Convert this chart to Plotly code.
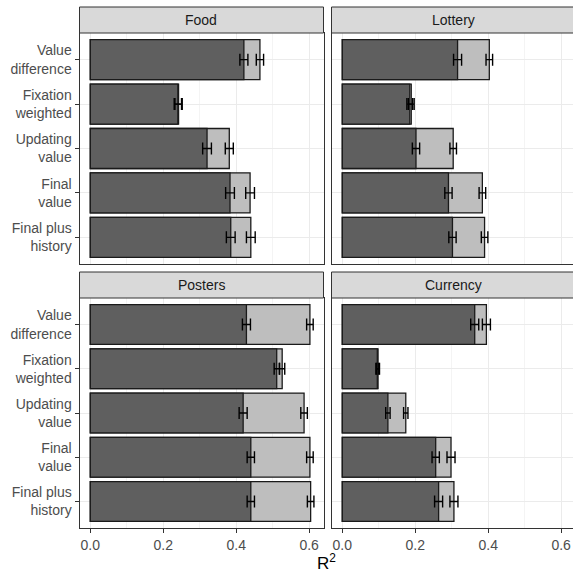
import plotly.graph_objects as go

categories = ["Value difference", "Fixation weighted", "Updating value", "Final value", "Final plus history"]
tick_labels = ["Value<br>difference", "Fixation<br>weighted", "Updating<br>value", "Final<br>value", "Final plus<br>history"]
panels = ["Food", "Lottery", "Posters", "Currency"]

food_full = [0.465, 0.242, 0.381, 0.438, 0.440]
food_base = [0.421, 0.240, 0.320, 0.383, 0.385]
lottery_full = [0.403, 0.189, 0.304, 0.384, 0.390]
lottery_base = [0.316, 0.185, 0.202, 0.291, 0.302]
posters_full = [0.602, 0.526, 0.586, 0.602, 0.604]
posters_base = [0.428, 0.511, 0.419, 0.440, 0.440]
currency_full = [0.395, 0.098, 0.174, 0.298, 0.306]
currency_base = [0.363, 0.096, 0.125, 0.256, 0.264]

food_full_err = [0.010, 0.010, 0.011, 0.012, 0.012]
food_base_err = [0.011, 0.010, 0.012, 0.012, 0.012]
lottery_full_err = [0.009, 0.008, 0.009, 0.009, 0.009]
lottery_base_err = [0.011, 0.008, 0.010, 0.010, 0.010]
posters_full_err = [0.009, 0.007, 0.009, 0.009, 0.009]
posters_base_err = [0.011, 0.007, 0.011, 0.010, 0.010]
currency_full_err = [0.011, 0.004, 0.006, 0.011, 0.011]
currency_base_err = [0.011, 0.004, 0.006, 0.010, 0.011]

x_ticks = [0.0, 0.2, 0.4, 0.6]
x_tick_labels = ["0.0", "0.2", "0.4", "0.6"]

data = {
    "Food": (food_full, food_base, food_full_err, food_base_err),
    "Lottery": (lottery_full, lottery_base, lottery_full_err, lottery_base_err),
    "Posters": (posters_full, posters_base, posters_full_err, posters_base_err),
    "Currency": (currency_full, currency_base, currency_full_err, currency_base_err),
}

W = H = 573
FONT = "Liberation Sans, Arial, sans-serif"
DARK = "#5f5f5f"
LIGHT = "#bebebe"
EDGE = "#1a1a1a"

# panel pixel geometry
px_per_unit = 364.8
left_x = (79.5, 323.5)
right_x = (331.5, 573.0)
top_y = (33.0, 264.0)
bot_y = (298.0, 528.0)
strip_h = 26.0

geom = {
    "Food": (left_x, top_y, 1),
    "Lottery": (right_x, top_y, 2),
    "Posters": (left_x, bot_y, 3),
    "Currency": (right_x, bot_y, 4),
}

fig = go.Figure()
err_traces = []
for name in panels:
    full, base, ferr, berr = data[name]
    (x0, x1), (y0, y1), idx = geom[name]
    xa = "x" if idx == 1 else f"x{idx}"
    ya = "y" if idx == 1 else f"y{idx}"
    for vals, col in ((full, LIGHT), (base, DARK)):
        fig.add_trace(go.Bar(
            x=vals, y=categories, orientation="h", width=0.9,
            marker=dict(color=col, line=dict(color=EDGE, width=1.3)),
            xaxis=xa, yaxis=ya, showlegend=False, hoverinfo="skip"))
    for vals, errs in ((base, berr), (full, ferr)):
        err_traces.append(go.Scatter(
            x=vals, y=categories, mode="markers",
            marker=dict(size=1, opacity=0),
            error_x=dict(type="data", array=errs, visible=True, color="black",
                         thickness=1.4, width=6),
            xaxis=xa, yaxis=ya, showlegend=False, hoverinfo="skip"))
for t in err_traces:
    fig.add_trace(t)

layout = {}
shapes = []
annotations = []
for name in panels:
    (x0, x1), (y0, y1), idx = geom[name]
    sfx = "" if idx == 1 else str(idx)
    origin = 90.3 if x0 < 100 else 342.3
    lo = -(origin - x0) / px_per_unit
    hi = lo + (x1 - x0) / px_per_unit
    show_x = idx in (3, 4)
    show_y = idx in (1, 3)
    layout["xaxis" + sfx] = dict(
        domain=[x0 / W, x1 / W], range=[lo, hi], anchor="y" + sfx,
        automargin=False,
        tickvals=x_ticks, ticktext=x_tick_labels, showticklabels=show_x,
        ticks="outside" if show_x else "", ticklen=4, tickcolor="#333333",
        showgrid=True, gridcolor="#ebebeb", gridwidth=1,
        minor=dict(dtick=0.1, tick0=0, showgrid=True, gridcolor="#f4f4f4", gridwidth=0.6),
        showline=True, mirror=True, linecolor="#333333", linewidth=1,
        zeroline=False, tickfont=dict(family=FONT, size=14, color="#4d4d4d"))
    layout["yaxis" + sfx] = dict(
        domain=[1 - y1 / H, 1 - y0 / H], anchor="x" + sfx,
        automargin=False,
        type="category", categoryorder="array", categoryarray=categories,
        range=[4.6, -0.6],
        tickvals=categories, ticktext=tick_labels, showticklabels=show_y,
        ticks="outside" if show_y else "", ticklen=4, tickcolor="#333333",
        showgrid=True, gridcolor="#ebebeb", gridwidth=1,
        showline=True, mirror=True, linecolor="#333333", linewidth=1,
        zeroline=False, tickfont=dict(family=FONT, size=14, color="#4d4d4d"))
    # strip
    shapes.append(dict(type="rect", xref="paper", yref="paper",
                       x0=x0 / W, x1=min(x0 + 244, 575) / W,
                       y0=1 - y0 / H, y1=1 - (y0 - strip_h) / H,
                       fillcolor="#d9d9d9", line=dict(color="#333333", width=1)))
    annotations.append(dict(text=name, xref="paper", yref="paper",
                            x=((x0 + x0 + 244) / 2) / W, y=1 - (y0 - strip_h / 2) / H,
                            showarrow=False, xanchor="center", yanchor="middle",
                            font=dict(family=FONT, size=14, color="#1a1a1a")))

annotations.append(dict(text="R<sup>2</sup>", xref="paper", yref="paper",
                        x=326.5 / W, y=1 - 562 / H, showarrow=False,
                        xanchor="center", yanchor="middle",
                        font=dict(family=FONT, size=17, color="black")))

fig.update_layout(
    width=W, height=H, margin=dict(l=0, r=0, t=0, b=0, autoexpand=False),
    paper_bgcolor="white", plot_bgcolor="white",
    barmode="overlay", bargap=0.1,
    shapes=shapes, annotations=annotations,
    **layout)

fig.write_html("out.html", config={"displayModeBar": False},
               post_script="document.body.style.margin='0px';document.body.style.overflow='hidden';")
